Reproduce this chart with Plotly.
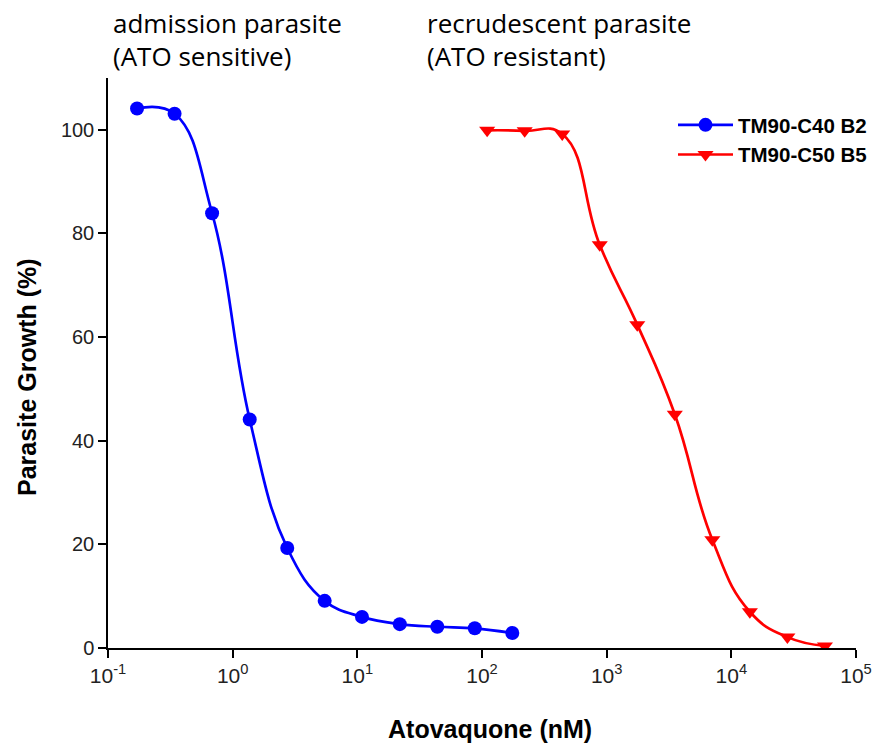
import plotly.graph_objects as go

# Data
conc_b2 = [0.171, 0.342, 0.684, 1.37, 2.74, 5.47, 10.9, 21.9, 43.8, 87.5, 175]
growth_b2 = [104.1, 103.1, 83.9, 44.1, 19.3, 9.1, 6.0, 4.6, 4.1, 3.8, 2.9]
conc_b5 = [110, 220, 440, 880, 1760, 3520, 7040, 14080, 28160, 56320]
growth_b5 = [99.9, 99.8, 99.2, 77.8, 62.4, 45.1, 20.9, 7.0, 2.1, 0.4]
name_b2 = "TM90-C40 B2"
name_b5 = "TM90-C50 B5"
xtick_vals = [0.1, 1, 10, 100, 1000, 10000, 100000]
xtick_text = ["10<sup>-1</sup>", "10<sup>0</sup>", "10<sup>1</sup>", "10<sup>2</sup>",
              "10<sup>3</sup>", "10<sup>4</sup>", "10<sup>5</sup>"]
ytick_vals = [0, 20, 40, 60, 80, 100]
title_left = ["admission parasite", "(ATO sensitive)"]
title_right = ["recrudescent parasite", "(ATO resistant)"]
x_title = "<b>Atovaquone (nM)</b>"
y_title = "<b>Parasite Growth (%)</b>"

fig = go.Figure()
fig.add_trace(go.Scatter(
    x=conc_b2, y=growth_b2, name=name_b2, mode="lines+markers",
    line=dict(color="#0000ff", width=2.7, shape="spline", smoothing=1.2),
    marker=dict(symbol="circle", size=14, color="#0000ff"),
))
fig.add_trace(go.Scatter(
    x=conc_b5, y=growth_b5, name=name_b5, mode="lines+markers",
    line=dict(color="#ff0000", width=2.7, shape="spline", smoothing=1.3),
    marker=dict(symbol="triangle-down", size=14, color="#ff0000"),
))

sans = "Liberation Sans, Arial, sans-serif"
narrow = "Liberation Sans Narrow, Arial Narrow, Liberation Sans, Arial, sans-serif"

L, R, T, B = 108, 856, 78, 648

def px(xpix):
    return (xpix - L) / float(R - L)

def py(ypix):
    return (B - ypix) / float(B - T)

annots = []
for txt, yc in zip(title_left, [23, 56]):
    annots.append(dict(text=txt, xref="paper", yref="paper", x=px(111), y=py(yc),
                       xanchor="left", yanchor="middle", showarrow=False,
                       font=dict(family="Open Sans, Lato, sans-serif", size=26, color="black")))
for txt, yc in zip(title_right, [23, 56]):
    annots.append(dict(text=txt, xref="paper", yref="paper", x=px(425), y=py(yc),
                       xanchor="left", yanchor="middle", showarrow=False,
                       font=dict(family="Open Sans, Lato, sans-serif", size=26, color="black")))
annots.append(dict(text=x_title, xref="paper", yref="paper", x=px(490), y=py(729),
                   xanchor="center", yanchor="middle", showarrow=False,
                   font=dict(family=sans, size=25, color="black")))
annots.append(dict(text=y_title, xref="paper", yref="paper", x=px(27), y=py(377),
                   xanchor="center", yanchor="middle", showarrow=False, textangle=-90,
                   font=dict(family=sans, size=25, color="black")))

fig.update_layout(
    width=879, height=745,
    margin=dict(l=L, r=879 - R, t=T, b=745 - B, autoexpand=False),
    plot_bgcolor="white", paper_bgcolor="white",
    showlegend=True,
    legend=dict(
        x=px(673), y=py(105), xanchor="left", yanchor="top",
        font=dict(family=sans, size=20.5, color="black", weight="bold"),
        bgcolor="rgba(0,0,0,0)", itemwidth=55, tracegroupgap=0,
    ),
    xaxis=dict(
        type="log", range=[-1, 5],
        tickvals=xtick_vals, ticktext=xtick_text,
        showline=True, linecolor="black", linewidth=1.5,
        ticks="outside", ticklen=8, tickwidth=1.5, tickcolor="black",
        showgrid=False, zeroline=False,
        tickfont=dict(family=narrow, size=21, color="#222222"),
    ),
    yaxis=dict(
        range=[0, 110],
        tickvals=ytick_vals,
        showline=True, linecolor="black", linewidth=1.5,
        ticks="outside", ticklen=8, tickwidth=1.5, tickcolor="black",
        showgrid=False, zeroline=False,
        tickfont=dict(family=sans, size=20, color="#222222"),
    ),
    annotations=annots,
)

fig.write_html("out.html")
